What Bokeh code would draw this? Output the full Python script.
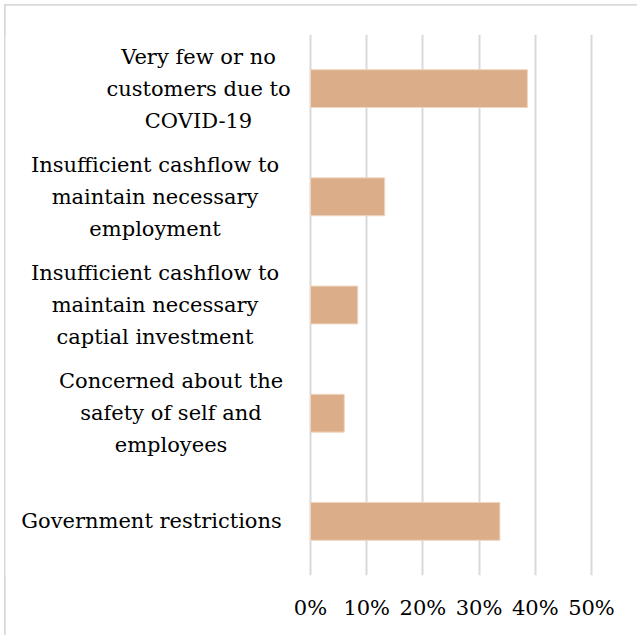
from bokeh.plotting import figure
from bokeh.models import FactorRange, Range1d, NumeralTickFormatter, FixedTicker
from bokeh.core.properties import value
from bokeh.embed import file_html
from bokeh.resources import INLINE

# Reasons given for closing / reduced operations (share of respondents)
categories = [
    "Very few or no\ncustomers due to\nCOVID-19",
    "Insufficient cashflow to\nmaintain necessary\nemployment",
    "Insufficient cashflow to\nmaintain necessary\ncaptial investment",
    "Concerned about the\nsafety of self and\nemployees",
    "Government restrictions",
]
shares = [0.386, 0.132, 0.084, 0.060, 0.337]
x_ticks = [0, 0.1, 0.2, 0.3, 0.4, 0.5]

# pixel offset of each (centred) category label from the 0% line
label_dx = [-112, -155.5, -155.5, -139.5, -159]

FONT = "DejaVu Serif"
FONT_SIZE = "21px"
TOP, BOTTOM, H, W = 29, 60, 630, 632
LEFT_PX, PLOT_PX, RIGHT = 303, 285, 44      # label area, bar area, right margin
X_END = 0.5036
X_SPAN = X_END + 0.0036
x_start = -0.0036 - LEFT_PX * X_SPAN / PLOT_PX

y_range = FactorRange(*reversed(categories))

p = figure(
    width=W, height=H, y_range=y_range,
    x_range=Range1d(x_start, X_END),
    output_backend="svg", toolbar_location=None,
    min_border_left=0, min_border_right=RIGHT,
    min_border_top=TOP, min_border_bottom=BOTTOM,
)
p.margin = (5, 0, 0, 5)
p.styles = {"outline": "2px solid #d9d9d9", "outline-offset": "-1px"}

p.hbar(y=categories, right=shares, left=0, height=0.35,
       fill_color="#dbae89", line_color="#f0d6c0", line_width=1)

# category labels, each line centred within its label
p.text(x=[0] * len(categories), y=categories, text=categories, x_offset=label_dx,
       text_align="center", text_baseline="middle",
       text_font=value(FONT), text_font_size=FONT_SIZE, text_color="#000000",
       text_line_height=1.33)

p.outline_line_color = None
p.yaxis.visible = False
p.ygrid.grid_line_color = None
p.xgrid.grid_line_color = "#d9d9d9"
p.xgrid.grid_line_width = 2
p.xaxis.ticker = FixedTicker(ticks=x_ticks)
p.xaxis.formatter = NumeralTickFormatter(format="0%")
p.xaxis.axis_line_color = None
p.xaxis.major_tick_line_color = None
p.xaxis.minor_tick_line_color = None
p.xaxis.major_label_text_font = FONT
p.xaxis.major_label_text_font_size = FONT_SIZE
p.xaxis.major_label_text_color = "#000000"
p.xaxis.major_label_standoff = 14

open("out.html", "w").write(file_html(p, INLINE))
